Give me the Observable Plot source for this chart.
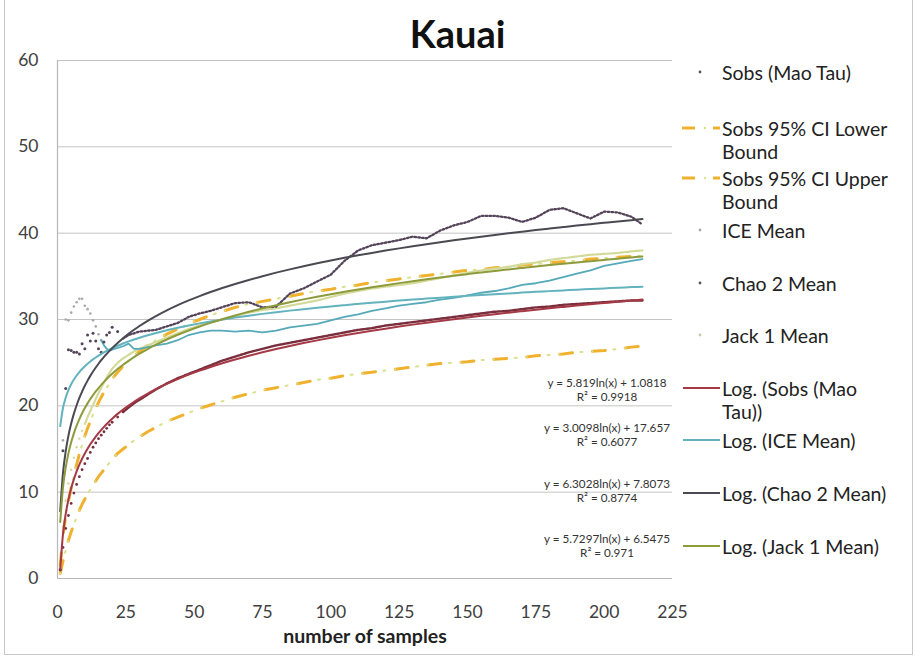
<!DOCTYPE html>
<html>
<head>
<meta charset="utf-8">
<script src="https://cdn.jsdelivr.net/npm/d3@7"></script>
<script src="https://cdn.jsdelivr.net/npm/@observablehq/plot@0.6"></script>
<style>
  body { margin: 0; background: #fff; font-family: Lato, "Open Sans", sans-serif; }
  #wrap { position: relative; width: 915px; height: 657px; overflow: hidden; background: #fff; }
  #frame { position: absolute; left: 4px; top: -1px; width: 909px; height: 656px; border: 1px solid #c8c8c8; box-sizing: border-box; pointer-events: none; }
  #title { position: absolute; left: 0; width: 915px; top: 10px; text-align: center; font-weight: bold; font-size: 38px; line-height: 46px; color: #111; }
  .leg { position: absolute; left: 722px; font-size: 19.5px; line-height: 23px; color: #222; white-space: nowrap; }
  .eq { position: absolute; left: 507px; width: 200px; text-align: center; font-size: 11.7px; line-height: 13.5px; color: #333; white-space: nowrap; }
</style>
</head>
<body>
<div id="wrap">
  <div id="title">Kauai</div>
  <div id="frame"></div>
</div>
<script>
// ---------- data ----------
const samples = [1,2,3,4,5,6,7,8,9,10,11,12,13,14,15,16,17,18,19,20,22,24,26,28,30,33,36,40,44,48,52,56,60,65,70,75,80,85,90,95,100,105,110,115,120,125,130,135,140,145,150,155,160,165,170,175,180,185,190,195,200,205,210,214];

const sobs = [1.0,3.6,5.8,7.3,8.7,9.9,10.9,11.8,12.6,13.3,13.9,14.6,15.2,15.7,16.2,16.6,17.0,17.4,17.8,18.1,
  18.7,19.3,19.8,20.3,20.7,21.3,21.9,22.6,23.2,23.7,24.2,24.7,25.2,
  25.7,26.2,26.6,27.0,27.3,27.6,27.9,28.2,28.5,28.8,29.0,29.3,29.5,29.7,29.9,30.1,30.3,30.5,30.7,30.9,31.0,31.2,31.4,31.5,31.7,31.8,31.9,32.0,32.1,32.2,32.2];

const sobsLower = [0.6,2.0,3.3,4.4,5.4,6.3,7.1,7.9,8.6,9.2,9.8,10.3,10.8,11.3,11.8,12.2,12.6,13.0,13.4,13.8,
  14.5,15.0,15.5,16.0,16.4,17.0,17.5,18.2,18.7,19.2,19.7,20.1,20.5,
  21.0,21.4,21.8,22.1,22.4,22.7,23.0,23.2,23.5,23.7,23.9,24.1,24.3,24.5,24.7,24.9,25.0,25.1,25.3,25.4,25.5,25.6,25.8,25.9,26.0,26.2,26.3,26.4,26.6,26.8,26.9];

const sobsUpper = [1.5,5.0,7.2,8.9,10.5,11.9,13.2,14.4,15.5,16.5,17.4,18.2,19.0,19.7,20.4,21.0,21.6,22.1,22.6,23.1,
  23.9,24.6,25.2,25.8,26.3,27.0,27.6,28.3,28.9,29.5,30.0,30.5,30.9,
  31.4,31.8,32.1,32.4,32.7,33.0,33.3,33.5,33.8,34.0,34.3,34.5,34.7,34.9,35.1,35.3,35.5,35.7,35.8,36.0,36.1,36.3,36.4,36.6,36.7,36.8,37.0,37.1,37.2,37.3,37.4];

const iceMean = [1.0,16.0,30.0,29.9,30.8,31.5,32.0,32.4,32.4,31.6,31.2,30.7,29.9,29.2,28.3,27.6,27.0,26.6,26.4,26.5,
  26.7,26.9,27.2,26.6,26.6,26.8,27.0,27.2,27.6,28.2,28.5,28.7,28.7,
  28.6,28.7,28.5,28.7,29.1,29.3,29.5,29.9,30.3,30.6,31.0,31.3,31.6,31.8,32.0,32.3,32.5,32.8,33.1,33.3,33.6,34.0,34.2,34.5,34.9,35.3,35.7,36.2,36.5,36.8,37.0];

const chao2Mean = [1.0,14.8,22.0,26.5,26.4,26.2,26.2,26.0,27.2,26.6,28.2,27.5,28.4,27.5,26.6,26.2,27.4,28.2,28.5,29.1,
  28.6,27.8,28.2,28.4,28.6,28.7,28.8,29.2,29.6,30.3,30.7,31.0,31.4,
  31.9,32.0,31.4,31.5,33.0,33.6,34.4,35.2,36.8,38.0,38.6,38.9,39.2,39.6,39.4,40.3,40.9,41.3,42.0,42.0,41.8,41.3,41.8,42.7,42.9,42.3,41.7,42.5,42.4,41.9,41.0];

const jack1Mean = [1.0,6.0,9.0,11.0,12.6,14.0,15.2,16.2,17.1,17.9,18.7,19.4,20.1,20.8,21.5,22.1,22.7,23.3,23.8,24.3,
  25.0,25.5,25.9,26.3,26.6,27.0,27.4,27.9,28.4,28.9,29.3,29.7,30.0,
  30.4,30.8,31.1,31.3,31.6,31.9,32.2,32.6,33.0,33.3,33.6,33.8,34.0,34.2,34.5,34.8,35.1,35.4,35.7,35.9,36.1,36.4,36.6,36.9,37.1,37.3,37.5,37.6,37.7,37.9,38.0];

// logarithmic trendlines as printed on the chart: y = a ln(x) + b
const trendNames = ["Log. (Sobs (Mao Tau))", "Log. (ICE Mean)", "Log. (Chao 2 Mean)", "Log. (Jack 1 Mean)"];
const trendSlope = [5.819, 3.0098, 6.3028, 5.7297];
const trendIntercept = [1.0818, 17.657, 7.8073, 6.5475];
const trendEquation = ["y = 5.819ln(x) + 1.0818", "y = 3.0098ln(x) + 17.657", "y = 6.3028ln(x) + 7.8073", "y = 5.7297ln(x) + 6.5475"];
const trendR2 = ["R² = 0.9918", "R² = 0.6077", "R² = 0.8774", "R² = 0.971"];

const xTicks = [0, 25, 50, 75, 100, 125, 150, 175, 200, 225];
const yTicks = [0, 10, 20, 30, 40, 50, 60];

const legendLabels = ["Sobs (Mao Tau)", "Sobs 95% CI Lower<br>Bound", "Sobs 95% CI Upper<br>Bound", "ICE Mean", "Chao 2 Mean", "Jack 1 Mean",
  "Log. (Sobs (Mao<br>Tau))", "Log. (ICE Mean)", "Log. (Chao 2 Mean)", "Log. (Jack 1 Mean)"];

// ---------- styling ----------
const C = {
  sobs: "#7a2e3e", ci: "#f0b22e", ciDot: "#d9e08e", ice: "#55a9b9", iceEarly: "#a9a9a9",
  chao: "#54445a", jack: "#d3da98",
  tSobs: "#a53a46", tIce: "#62b3bd", tChao: "#4a4a52", tJack: "#8d9b3c", grid: "#c4c4c4"
};

const rows = vals => samples.map((x, i) => ({x, y: vals[i]}));
const sobsRows = rows(sobs), lowRows = rows(sobsLower), upRows = rows(sobsUpper);
const iceRows = rows(iceMean), chaoRows = rows(chao2Mean), jackRows = rows(jack1Mean);
const trendRows = trendSlope.map((a, k) => samples.map(x => ({x, y: a * Math.log(x) + trendIntercept[k]})));
const trendColors = [C.tSobs, C.tIce, C.tChao, C.tJack];

const plot = Plot.plot({
  width: 915, height: 657,
  marginLeft: 57, marginRight: 243, marginTop: 60, marginBottom: 79,
  style: {fontFamily: "Lato, sans-serif", fontSize: "17.5px", color: "#404040", background: "transparent", overflow: "visible", position: "absolute", left: "0px", top: "0px"},
  x: {domain: [0, 225], ticks: xTicks, tickSize: 0, tickPadding: 27, label: null},
  y: {domain: [0, 60], ticks: yTicks, tickSize: 0, tickPadding: 19, label: null},
  marks: [
    Plot.ruleY(yTicks.filter(d => d > 0), {stroke: C.grid, strokeWidth: 1}),
    Plot.ruleY([0], {stroke: "#b8b8b8", strokeWidth: 1.2}),
    Plot.ruleX([0], {stroke: "#b8b8b8", strokeWidth: 1.2}),
    // CI bounds (dash-dot)
    Plot.line(lowRows, {x: "x", y: "y", stroke: C.ci, strokeWidth: 3, strokeDasharray: "13,20"}),
    Plot.line(lowRows, {x: "x", y: "y", stroke: C.ciDot, strokeWidth: 2, strokeDasharray: "0,21,2,10"}),
    Plot.line(upRows, {x: "x", y: "y", stroke: C.ci, strokeWidth: 3, strokeDasharray: "13,20"}),
    Plot.line(upRows, {x: "x", y: "y", stroke: C.ciDot, strokeWidth: 2, strokeDasharray: "0,21,2,10"}),
    // Jack 1
    Plot.line(jackRows.filter(d => d.x >= 10), {x: "x", y: "y", stroke: C.jack, strokeWidth: 2.2, strokeDasharray: "2,1.5"}),
    Plot.dot(jackRows.filter(d => d.x < 10), {x: "x", y: "y", r: 1.2, fill: C.jack}),
    // ICE
    Plot.dot(iceRows.filter(d => d.x <= 16), {x: "x", y: "y", r: 1.3, fill: C.iceEarly}),
    Plot.line(iceRows.filter(d => d.x >= 16), {x: "x", y: "y", stroke: C.ice, strokeWidth: 1.8}),
    // Chao 2
    Plot.dot(chaoRows.filter(d => d.x < 24), {x: "x", y: "y", r: 1.5, fill: C.chao}),
    Plot.line(chaoRows.filter(d => d.x >= 24), {x: "x", y: "y", stroke: C.chao, strokeWidth: 2.3, strokeDasharray: "1.6,2.2"}),
    // Sobs
    Plot.dot(sobsRows.filter(d => d.x <= 24), {x: "x", y: "y", r: 1.4, fill: C.sobs}),
    Plot.line(sobsRows.filter(d => d.x >= 24), {x: "x", y: "y", stroke: C.sobs, strokeWidth: 2.4, strokeDasharray: "2,1"}),
    // trendlines
    ...trendRows.map((r, k) => Plot.line(r, {x: "x", y: "y", stroke: trendColors[k], strokeWidth: 2, curve: "monotone-x"})),
    // axis title
    Plot.text(["number of samples"], {text: d => d, frameAnchor: "bottom", dy: 64, fontWeight: "bold", fontSize: 19.5, fill: "#222"})
  ]
});
const wrap = document.getElementById("wrap");
wrap.insertBefore(plot, wrap.firstChild);

// ---------- legend ----------
const legendCenters = [72, 128, 178, 230, 283, 335, 388, 440, 493, 546];
const legendKinds = ["dot", "ci", "ci", "dot", "dot", "dot", "line", "line", "line", "line"];
const legendColors = ["#555", C.ci, C.ci, "#aaa", "#555", "#c8c8a8", C.tSobs, C.tIce, C.tChao, C.tJack];
legendLabels.forEach((lab, i) => {
  const t = document.createElement("div");
  t.className = "leg";
  t.style.top = (legendCenters[i] - 11.5) + "px";
  t.innerHTML = lab;
  wrap.appendChild(t);
  const s = d3.create("svg").attr("width", 42).attr("height", 10)
    .style("position", "absolute").style("left", "680px")
    .style("top", (legendCenters[i] - 5) + "px");
  if (legendKinds[i] === "dot") {
    s.append("circle").attr("cx", 20).attr("cy", 5).attr("r", 1.4).attr("fill", legendColors[i]);
  } else if (legendKinds[i] === "ci") {
    s.append("line").attr("x1", 2).attr("x2", 15).attr("y1", 5).attr("y2", 5).attr("stroke", C.ci).attr("stroke-width", 3);
    s.append("circle").attr("cx", 25).attr("cy", 5).attr("r", 1.2).attr("fill", C.ciDot);
    s.append("line").attr("x1", 33).attr("x2", 40).attr("y1", 5).attr("y2", 5).attr("stroke", C.ci).attr("stroke-width", 3);
  } else {
    s.append("line").attr("x1", 3).attr("x2", 40).attr("y1", 5).attr("y2", 5).attr("stroke", legendColors[i]).attr("stroke-width", 2);
  }
  wrap.appendChild(s.node());
});

// ---------- trendline equations ----------
const eqCenters = [383, 428, 484, 539];
trendEquation.forEach((eq, k) => {
  const d = document.createElement("div");
  d.className = "eq";
  d.style.top = (eqCenters[k] - 7) + "px";
  d.innerHTML = eq + "<br>" + trendR2[k];
  wrap.appendChild(d);
});
</script>
</body>
</html>
